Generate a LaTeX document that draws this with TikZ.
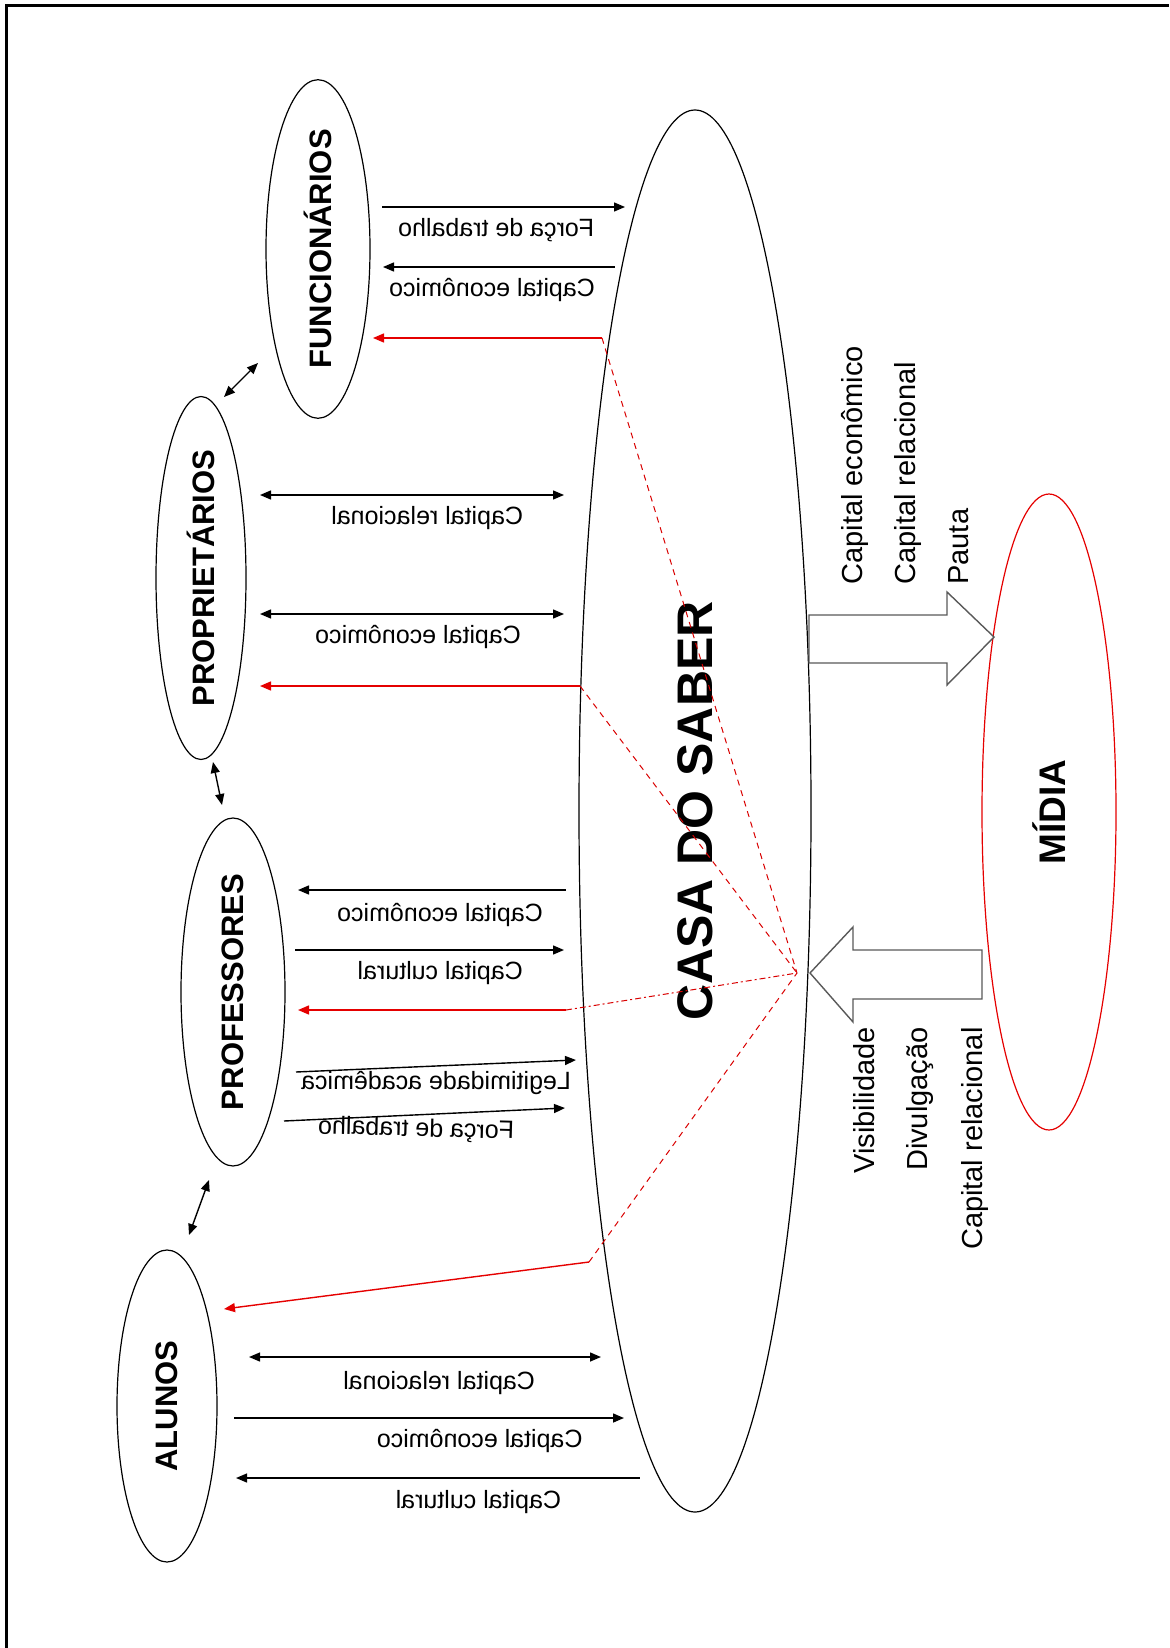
\documentclass[tikz,border=0pt]{standalone}
\usepackage{fontspec}
\setmainfont{Liberation Sans}
\usetikzlibrary{arrows.meta,shapes.geometric}

\begin{document}
\begin{tikzpicture}[x=0.5pt, y=-0.5pt, >={Triangle[length=5.5pt,width=4.5pt]},
    grupo/.style={draw, ellipse, rotate=90, inner sep=0pt, line width=0.6pt,
        font=\fontsize{15.5}{18}\selectfont\bfseries},
    fluxo/.style={line width=0.7pt},
    vermelho/.style={draw=red!90!black, line width=0.7pt},
    tracejado/.style={red!85!black, line width=0.5pt, dash pattern=on 3pt off 2.5pt},
    rotulo/.style={xscale=-1, inner sep=0pt, font=\fontsize{12.5}{15}\selectfont},
    lateral/.style={rotate=90, inner sep=0pt, font=\fontsize{14.5}{17}\selectfont},
    bloco/.style={draw=black!65, line width=0.7pt, fill=white}]

    \useasboundingbox (0,0) rectangle (1169,1648);
    % Frame (only top and left edges fall inside the page)
    \draw[line width=1.5pt] (6,1648) -- (6,6) -- (1169,6);

    % Agents
    \node[grupo, minimum width=162pt, minimum height=52pt] (func) at (318,249) {FUNCIONÁRIOS};
    \node[grupo, minimum width=180pt, minimum height=45pt] (prop) at (201,578) {PROPRIETÁRIOS};
    \node[grupo, minimum width=174pt, minimum height=52pt] (prof) at (233,992) {PROFESSORES};
    \node[grupo, minimum width=156pt, minimum height=50pt] (alunos) at (167,1406) {ALUNOS};
    \node[grupo, minimum width=701pt, minimum height=116pt,
        font=\fontsize{25}{30}\selectfont\bfseries] (casa) at (695,811) {CASA DO SABER};
    \node[grupo, draw=red!90!black, minimum width=318pt, minimum height=67pt,
        font=\fontsize{18.5}{22}\selectfont\bfseries] (midia) at (1049,812) {MÍDIA};

    % Arrow ends
    \coordinate (foco) at (797,973);
    \coordinate (fa-l) at (382,207);  \coordinate (fa-r) at (625,207);
    \coordinate (fb-l) at (383,267);  \coordinate (fb-r) at (615,267);
    \coordinate (fc-l) at (373,338);  \coordinate (fc-r) at (602,338);
    \coordinate (pa-l) at (260,495);  \coordinate (pa-r) at (564,495);
    \coordinate (pb-l) at (260,614);  \coordinate (pb-r) at (564,614);
    \coordinate (pc-l) at (260,686);  \coordinate (pc-r) at (580,686);
    \coordinate (ra-l) at (298,890);  \coordinate (ra-r) at (566,890);
    \coordinate (rb-l) at (295,950);  \coordinate (rb-r) at (564,950);
    \coordinate (rc-l) at (298,1010); \coordinate (rc-r) at (566,1010);
    \coordinate (rd-l) at (296,1072); \coordinate (rd-r) at (576,1060);
    \coordinate (re-l) at (284,1121); \coordinate (re-r) at (565,1108);
    \coordinate (aa-l) at (224,1309); \coordinate (aa-r) at (589,1262);
    \coordinate (ab-l) at (249,1357); \coordinate (ab-r) at (601,1357);
    \coordinate (ac-l) at (234,1418); \coordinate (ac-r) at (624,1418);
    \coordinate (ad-l) at (236,1478); \coordinate (ad-r) at (640,1478);
    \coordinate (fp-a) at (258,363);  \coordinate (fp-b) at (224,397);
    \coordinate (pr-a) at (213,762);  \coordinate (pr-b) at (222,805);
    \coordinate (ra-a) at (209,1180); \coordinate (ra-b) at (189,1235);

    % Funcionarios
    \draw[fluxo, ->] (fa-l) -- (fa-r) node[rotulo, pos=.47, yshift=-11.5pt] {Força de trabalho};
    \draw[fluxo, <-] (fb-l) -- (fb-r) node[rotulo, pos=.47, yshift=-11.5pt] {Capital econômico};
    \draw[vermelho, <-, red!90!black] (fc-l) -- (fc-r);

    % Proprietarios
    \draw[fluxo, <->] (pa-l) -- (pa-r) node[rotulo, pos=.55, yshift=-11.5pt] {Capital relacional};
    \draw[fluxo, <->] (pb-l) -- (pb-r) node[rotulo, pos=.52, yshift=-11.5pt] {Capital econômico};
    \draw[vermelho, <-, red!90!black] (pc-l) -- (pc-r);

    % Professores
    \draw[fluxo, <-] (ra-l) -- (ra-r) node[rotulo, pos=.53, yshift=-12.5pt] {Capital econômico};
    \draw[fluxo, ->] (rb-l) -- (rb-r) node[rotulo, pos=.54, yshift=-11.5pt] {Capital cultural};
    \draw[vermelho, <-, red!90!black] (rc-l) -- (rc-r);
    \draw[fluxo, ->] (rd-l) -- (rd-r) node[rotulo, pos=.5, yshift=-8.5pt] {Legitimidade acadêmica};
    \draw[fluxo, ->] (re-l) -- (re-r) node[rotulo, pos=.47, yshift=-7.5pt, rotate=1.5] {Força de trabalho};

    % Alunos
    \draw[vermelho, <-, red!90!black] (aa-l) -- (aa-r);
    \draw[fluxo, <->] (ab-l) -- (ab-r) node[rotulo, pos=.54, yshift=-13pt] {Capital relacional};
    \draw[fluxo, ->] (ac-l) -- (ac-r) node[rotulo, pos=.63, yshift=-11.5pt] {Capital econômico};
    \draw[fluxo, <-] (ad-l) -- (ad-r) node[rotulo, pos=.6, yshift=-12pt] {Capital cultural};

    % Between agents
    \draw[fluxo, <->] (fp-a) -- (fp-b);
    \draw[fluxo, <->] (pr-a) -- (pr-b);
    \draw[fluxo, <->] (ra-a) -- (ra-b);

    % Red lines to the focus
    \draw[tracejado] (fc-r) -- (foco);
    \draw[tracejado] (pc-r) -- (foco);
    \draw[tracejado, dash pattern=on 3pt off 1.5pt on 1pt off 1.5pt] (rc-r) -- (foco);
    \draw[tracejado] (aa-r) -- (foco);

    % Casa do Saber <-> Midia
    \draw[bloco] (809,615) -- (947,615) -- (947,592) -- (994,637) -- (947,685)
        -- (947,663) -- (809,663) -- cycle;
    \draw[bloco] (810,973) -- (853,927) -- (853,950) -- (982,950) -- (982,999)
        -- (853,999) -- (853,1022) -- cycle;

    \node[lateral, anchor=base west] (cap1) at (862,585) {Capital econômico};
    \node[lateral, anchor=base west] (cap2) at (915,585) {Capital relacional};
    \node[lateral, anchor=base west] (pauta) at (968,585) {Pauta};
    \node[lateral, anchor=base east] (visib) at (874,1027) {Visibilidade};
    \node[lateral, anchor=base east] (divulg) at (927,1027) {Divulgação};
    \node[lateral, anchor=base east] (cap3) at (982,1027) {Capital relacional};

\end{tikzpicture}
\end{document}
